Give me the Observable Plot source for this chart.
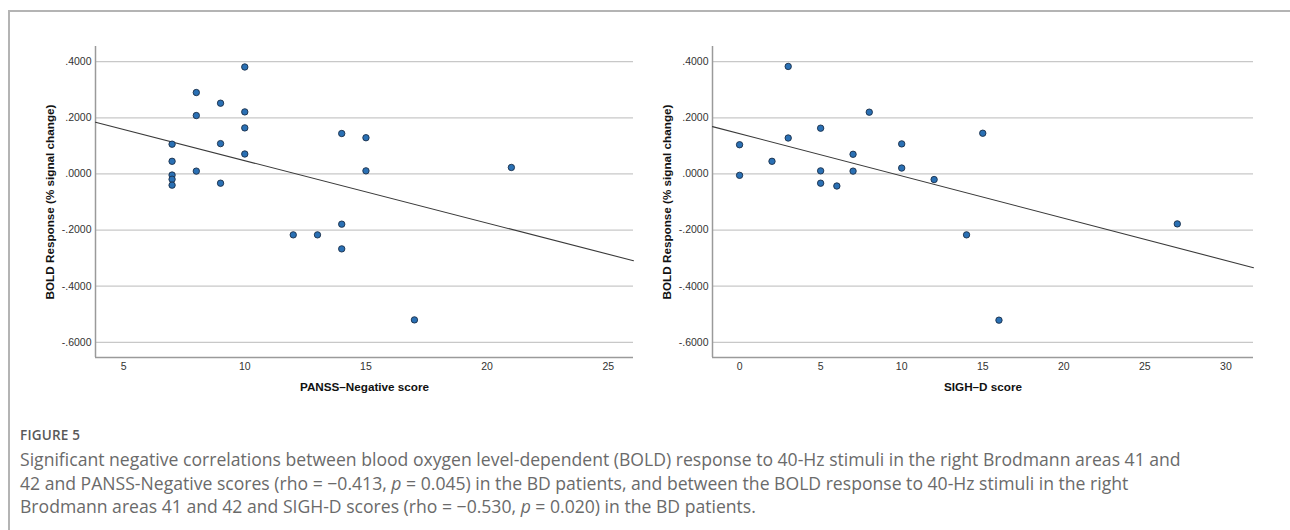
<!DOCTYPE html>
<html>
<head>
<meta charset="utf-8">
<script src="https://cdn.jsdelivr.net/npm/d3@7"></script>
<script src="https://cdn.jsdelivr.net/npm/@observablehq/plot@0.6"></script>
<style>
  html, body { margin: 0; padding: 0; background: #fff; }
  #page { position: relative; width: 1290px; height: 530px; overflow: hidden; }
  #frame { position: absolute; left: 8px; top: 10px; width: 1400px; height: 600px;
           border-top: 2px solid #b4b4b4; border-left: 2px solid #b4b4b4; box-sizing: border-box; }
  .chart { position: absolute; top: 0; }
  .chart svg { overflow: visible; }
  .chart g[aria-label$="axis label"] text { font-weight: bold; font-size: 11.7px; fill: #111; }
  #figlabel { position: absolute; left: 20px; top: 427px; font-family: "Open Sans", sans-serif;
              font-weight: 600; font-size: 13.5px; line-height: 16px; color: #595959; letter-spacing: 0.2px; }
  #caption { position: absolute; left: 20px; top: 448px; font-family: "Open Sans", sans-serif;
             font-size: 17.6px; line-height: 23.5px; color: #6a6a6a; white-space: nowrap; }
</style>
</head>
<body>
<div id="page">
  <div id="frame"></div>
  <div id="left" class="chart" style="left:0px"></div>
  <div id="right" class="chart" style="left:645px"></div>
  <div id="figlabel">FIGURE 5</div>
  <div id="caption">Significant negative correlations between blood oxygen level-dependent (BOLD) response to 40-Hz stimuli in the right Brodmann areas 41 and<br>42 and PANSS-Negative scores (rho = −0.413, <i>p</i> = 0.045) in the BD patients, and between the BOLD response to 40-Hz stimuli in the right<br>Brodmann areas 41 and 42 and SIGH-D scores (rho = −0.530, <i>p</i> = 0.020) in the BD patients.</div>
</div>
<script>
// ---- Data ----
const pansScore = [7, 7, 7, 7, 7, 8, 8, 8, 9, 9, 9, 10, 10, 10, 10, 12, 13, 14, 14, 14, 15, 15, 17, 21];
const pansBold  = [0.106, 0.045, -0.004, -0.019, -0.040, 0.290, 0.208, 0.010, 0.252, 0.108, -0.033,
                   0.381, 0.221, 0.164, 0.071, -0.217, -0.217, 0.144, -0.179, -0.267, 0.129, 0.011, -0.520, 0.023];

const sighScore = [0, 0, 2, 3, 3, 5, 5, 5, 6, 7, 7, 8, 10, 10, 12, 14, 15, 16, 27];
const sighBold  = [0.104, -0.005, 0.045, 0.383, 0.128, 0.163, 0.011, -0.033, -0.043, 0.070, 0.010,
                   0.220, 0.107, 0.021, -0.020, -0.217, 0.145, -0.521, -0.178];

const pansTicksX = [5, 10, 15, 20, 25];
const sighTicksX = [0, 5, 10, 15, 20, 25, 30];
const boldTicksY = [-0.6, -0.4, -0.2, 0, 0.2, 0.4];
const pansDomainX = [3.84, 26.04];
const sighDomainX = [-1.67, 31.7];
const boldDomainY = [-0.654, 0.454];

const yLabel = "BOLD Response (% signal change)";
const pansLabel = "PANSS\u2013Negative score";
const sighLabel = "SIGH\u2013D score";

// ---- helpers ----
const fmtY = v => {
  const s = d3.format(".4f")(Math.abs(v)).replace(/^0/, "");
  return (v < 0 ? "-" : "") + s;
};
function fitLine(xs, ys, dom) {
  const mx = d3.mean(xs), my = d3.mean(ys);
  let sxy = 0, sxx = 0;
  xs.forEach((x, i) => { sxy += (x - mx) * (ys[i] - my); sxx += (x - mx) ** 2; });
  const b = sxy / sxx, a = my - b * mx;
  return dom.map(x => ({x, y: a + b * x}));
}

function scatter(xs, ys, opts) {
  const data = xs.map((x, i) => ({x, y: ys[i]}));
  return Plot.plot({
    width: 645,
    height: 402,
    marginLeft: opts.marginLeft,
    marginRight: opts.marginRight,
    marginTop: opts.marginTop,
    marginBottom: 45,
    style: { fontFamily: "'Liberation Sans', Arial, sans-serif", fontSize: "10.5px", color: "#333", background: "transparent" },
    x: { domain: opts.domainX },
    y: { domain: boldDomainY },
    marks: [
      Plot.gridY(boldTicksY, { stroke: "#c8c8c8", strokeOpacity: 1, strokeWidth: 1.3 }),
      Plot.ruleX([opts.domainX[0]], { stroke: "#9a9a9a", strokeWidth: 1.5 }),
      Plot.ruleY([boldDomainY[0]], { stroke: "#9a9a9a", strokeWidth: 1.5 }),
      Plot.axisY(boldTicksY, { tickSize: 0, tickPadding: 4, tickFormat: fmtY, label: yLabel,
                               labelAnchor: "center", labelOffset: 50, labelArrow: false }),
      Plot.axisX(opts.ticksX, { tickSize: 0, tickPadding: 5, label: opts.labelX,
                                labelAnchor: "center", labelOffset: 33, labelArrow: false }),
      Plot.line(fitLine(xs, ys, opts.domainX), { x: "x", y: "y", stroke: "#3a3a3a", strokeWidth: 1.1 }),
      Plot.dot(data, { x: "x", y: "y", r: 3.2, fill: "#2a70b4", stroke: "#1b2f48", strokeWidth: 0.9 })
    ]
  });
}

document.getElementById("left").appendChild(scatter(pansScore, pansBold, {
  marginLeft: 95, marginRight: 12, marginTop: 46, domainX: pansDomainX, ticksX: pansTicksX, labelX: pansLabel
}));
document.getElementById("right").appendChild(scatter(sighScore, sighBold, {
  marginLeft: 67, marginRight: 37, marginTop: 46, domainX: sighDomainX, ticksX: sighTicksX, labelX: sighLabel
}));
</script>
</body>
</html>
